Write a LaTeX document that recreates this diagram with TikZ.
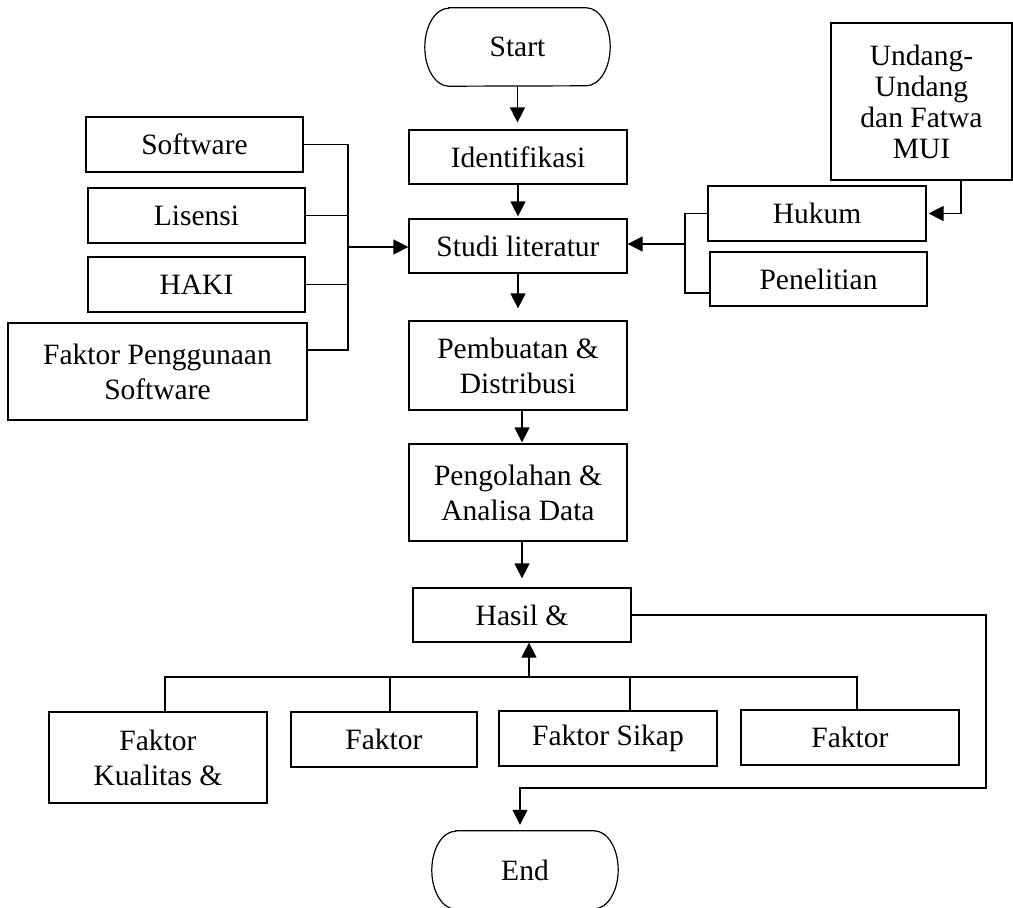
\documentclass[tikz,border=0pt]{standalone}
\usepackage{fontspec}
\setmainfont{Liberation Serif}
\usetikzlibrary{arrows.meta}
\begin{document}
\begin{tikzpicture}[x=1pt,y=-1pt,
  line/.style={line width=1.2pt, draw=black},
  arr/.style={line, -{Triangle[length=15pt,width=15pt]}},
  box/.style={line, draw, rectangle, inner sep=0pt, align=center, font=\fontsize{29.5}{35}\selectfont},
  term/.style={rectangle, inner sep=0pt, font=\fontsize{29.5}{35}\selectfont}]
\useasboundingbox (0,0) rectangle (1013,908);

% main column
\node[term, minimum width=185pt, minimum height=78pt] (start) at (517.5,47) {Start};
\draw[line] ([xshift=24pt]start.north west) -- ([xshift=-24pt]start.north east)
  arc[start angle=90, end angle=-90, x radius=24pt, y radius=39pt]
  -- ([xshift=24pt]start.south west)
  arc[start angle=270, end angle=90, x radius=24pt, y radius=39pt] -- cycle;
\node[box, minimum width=218pt, minimum height=54pt] (ident) at (518,157) {Identifikasi};
\node[box, minimum width=218pt, minimum height=54pt] (studi) at (518,246) {Studi literatur};
\node[box, minimum width=218pt, minimum height=89pt] (pemb) at (518,365.5) {Pembuatan \&\\Distribusi};
\node[box, minimum width=218pt, minimum height=97pt] (peng) at (518,492.5) {Pengolahan \&\\Analisa Data};
\node[box, minimum width=218pt, minimum height=54pt] (hasil) at (522,615) {Hasil \&};
\node[term, minimum width=186pt, minimum height=78pt] (end) at (525,870) {End};
\draw[line] ([xshift=24pt]end.north west) -- ([xshift=-24pt]end.north east)
  arc[start angle=90, end angle=-90, x radius=24pt, y radius=39pt]
  -- ([xshift=24pt]end.south west)
  arc[start angle=270, end angle=90, x radius=24pt, y radius=39pt] -- cycle;

% left inputs
\node[box, minimum width=217pt, minimum height=55pt] (soft) at (194.5,144.5) {Software};
\node[box, minimum width=217pt, minimum height=55pt] (lis) at (196.5,215.5) {Lisensi};
\node[box, minimum width=217pt, minimum height=55pt] (haki) at (196.5,284.5) {HAKI};
\node[box, minimum width=299pt, minimum height=97pt] (fpeng) at (157.5,371.5) {Faktor Penggunaan\\Software};

% right inputs
\node[box, minimum width=181pt, minimum height=157pt, font=\fontsize{29.5}{31}\selectfont] (undang) at (921.5,101.5) {Undang-\\Undang\\dan Fatwa\\MUI};
\node[box, minimum width=218pt, minimum height=55pt] (hukum) at (817,213.5) {Hukum};
\node[box, minimum width=217pt, minimum height=54pt] (penel) at (818.5,279) {Penelitian};

% bottom factors
\node[box, minimum width=218pt, minimum height=91pt] (fk1) at (158,757.5) {Faktor\\Kualitas \&};
\node[box, minimum width=186pt, minimum height=55pt] (fk2) at (384,739.5) {Faktor};
\node[box, minimum width=218pt, minimum height=55pt] (fk3) at (608,738.5) {Faktor Sikap};
\node[box, minimum width=218pt, minimum height=55pt] (fk4) at (850,737.5) {Faktor};

% main flow arrows
\draw[arr, shorten >=7pt] (start) -- (start |- ident.north);
\draw[arr, shorten >=2pt] (ident) -- (studi);
\draw[arr, shorten >=12pt] (studi) -- (studi |- pemb.north);
\draw[arr, shorten >=1pt] ([xshift=4pt]pemb.south) -- ([xshift=4pt]pemb.south |- peng.north);
\draw[arr, shorten >=9pt] (peng.south -| hasil.north) -- (hasil.north);

% left bus
\coordinate (lb) at (348,247);
\draw[line] (soft.east) -| (lb);
\draw[line] ([yshift=21.5pt]fpeng.east) -| (lb);
\draw[line] (lis.east) -- (lis.east -| lb);
\draw[line] (haki.east) -- (haki.east -| lb);
\draw[arr] (lb) -- (lb -| studi.west);

% right bus
\coordinate (rb) at (685,244);
\draw[line] (hukum.west) -| (rb);
\draw[line] ([yshift=-14pt]penel.west) -| (rb);
\draw[arr] (rb) -- (rb -| studi.east);
\draw[arr, shorten >=2pt] ([xshift=39.5pt]undang.south) |- (hukum.east);

% bottom bus
\coordinate (bb) at (529,677);
\draw[line] ([xshift=7pt]fk1.north) |- (bb) -| ([xshift=7pt]fk4.north);
\draw[line] ([xshift=6pt]fk2.north) -- ([xshift=6pt]fk2.north |- bb);
\draw[line] ([xshift=22pt]fk3.north) -- ([xshift=22pt]fk3.north |- bb);
\draw[arr] (bb) -- (bb |- hasil.south);

% hasil to end
\coordinate (rc) at (986,788);
\draw[arr, shorten >=6pt] (hasil.east) -| (rc) -| ([xshift=-5pt]end.north);
\end{tikzpicture}
\end{document}
